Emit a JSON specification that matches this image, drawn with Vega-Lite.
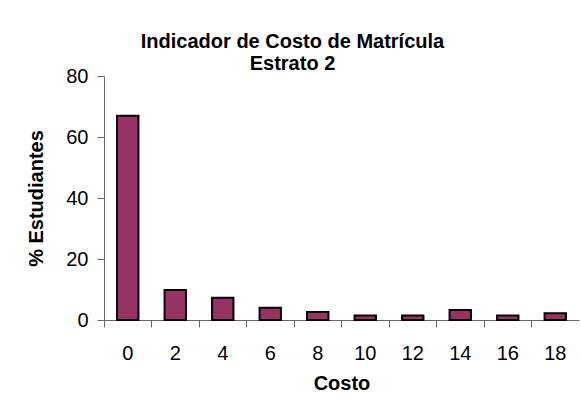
{
  "$schema": "https://vega.github.io/schema/vega-lite/v6.json",
  "autosize": {"type": "none"},
  "width": 475,
  "height": 244,
  "padding": {"left": 104, "top": 76, "right": 2, "bottom": 80},
  "background": "white",
  "title": {
    "text": ["Indicador de Costo de Matrícula", "Estrato 2"],
    "font": "Liberation Sans",
    "fontSize": 20,
    "fontWeight": "bold",
    "color": "black",
    "lineHeight": 22,
    "anchor": "middle",
    "frame": "group",
    "dx": -49,
    "offset": -8
  },
  "data": {
    "values": [
      {"costo": "0", "pct": 67},
      {"costo": "2", "pct": 9.8},
      {"costo": "4", "pct": 7.3},
      {"costo": "6", "pct": 4.0},
      {"costo": "8", "pct": 2.6},
      {"costo": "10", "pct": 1.5},
      {"costo": "12", "pct": 1.5},
      {"costo": "14", "pct": 3.3},
      {"costo": "16", "pct": 1.5},
      {"costo": "18", "pct": 2.2}
    ]
  },
  "mark": {"type": "bar", "fill": "#993366", "stroke": "black", "strokeWidth": 2, "width": {"band": 0.45}},
  "encoding": {
    "x": {
      "field": "costo",
      "type": "ordinal",
      "sort": null,
      "scale": {"paddingInner": 0, "paddingOuter": 0},
      "axis": {
        "title": "Costo",
        "labelAngle": 0,
        "bandPosition": 0,
        "labelFont": "Liberation Sans",
        "labelFontSize": 20,
        "labelColor": "black",
        "labelPadding": 16,
        "tickSize": 7,
        "tickColor": "#666",
        "domainColor": "#666",
        "titleFont": "Liberation Sans",
        "titleFontSize": 20,
        "titleFontWeight": "bold",
        "titleColor": "black",
        "titlePadding": 10
      }
    },
    "y": {
      "field": "pct",
      "type": "quantitative",
      "scale": {"domain": [0, 80]},
      "axis": {
        "title": "% Estudiantes",
        "values": [0, 20, 40, 60, 80],
        "grid": false,
        "labelFont": "Liberation Sans",
        "labelFontSize": 20,
        "labelColor": "black",
        "labelPadding": 9,
        "tickSize": 7,
        "tickColor": "#666",
        "domainColor": "#666",
        "titleFont": "Liberation Sans",
        "titleFontSize": 20,
        "titleFontWeight": "bold",
        "titleColor": "black",
        "titlePadding": 19
      }
    }
  },
  "config": {"view": {"stroke": null}}
}
